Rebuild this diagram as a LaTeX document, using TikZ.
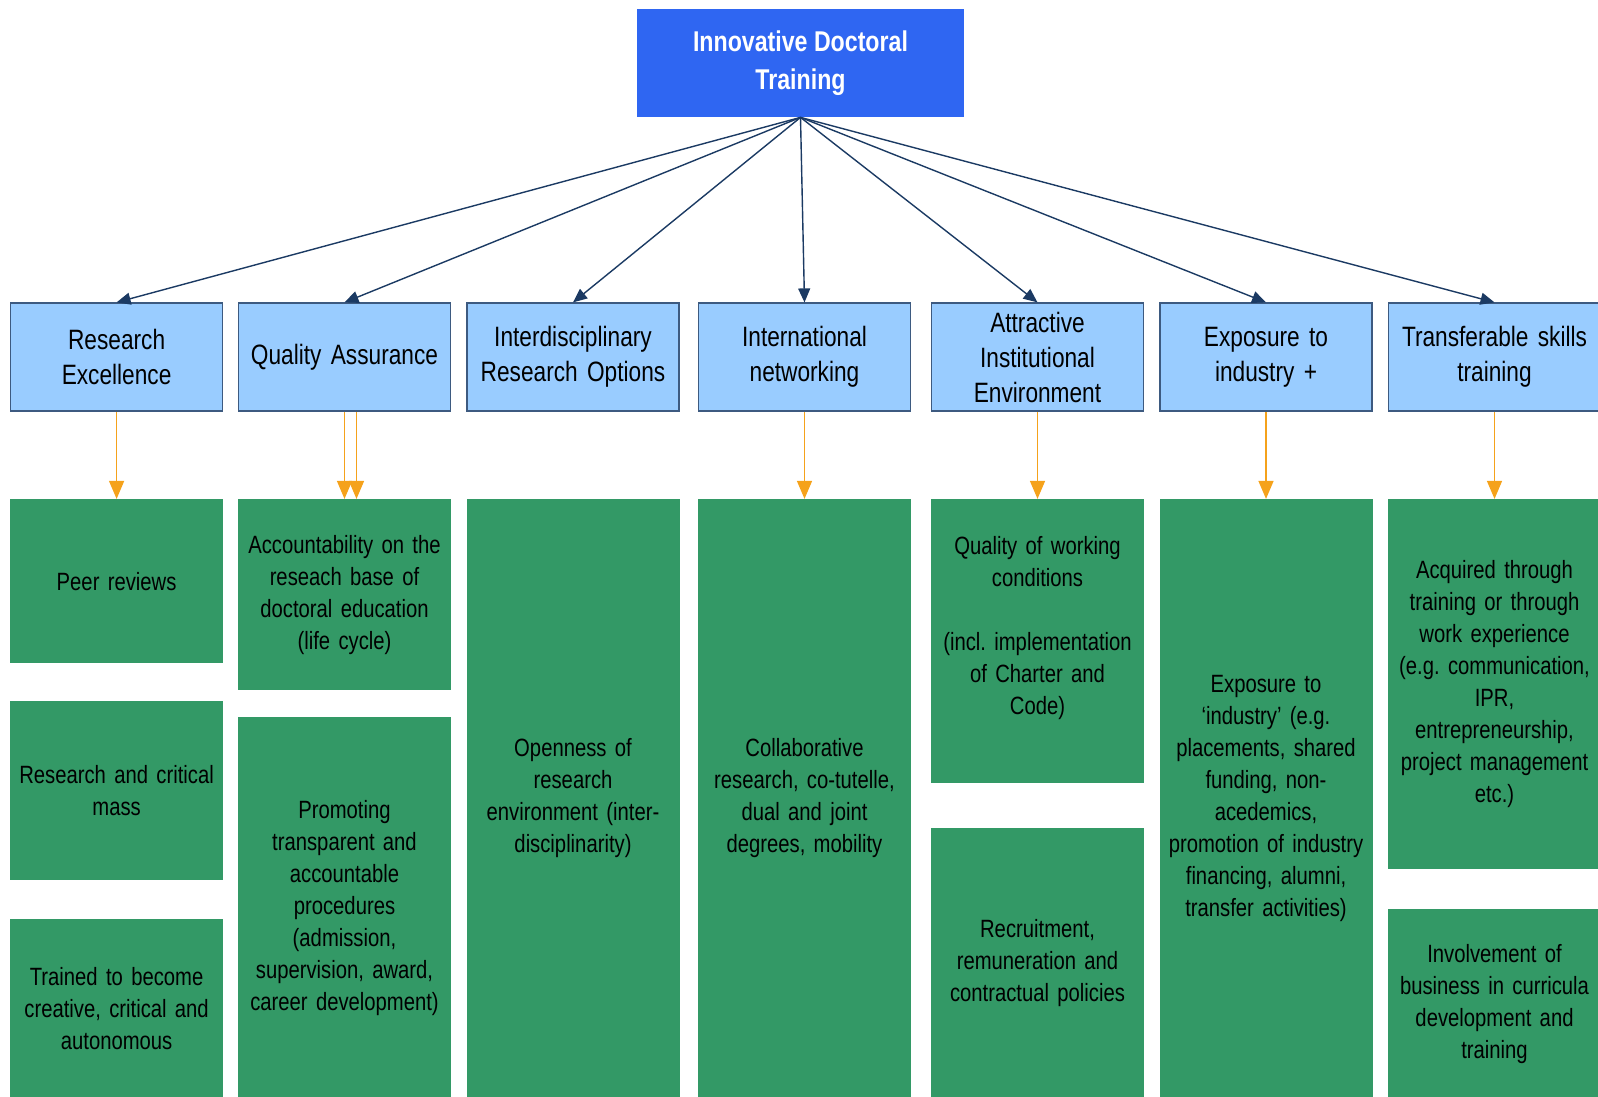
\documentclass[tikz,border=0pt]{standalone}
\usepackage{fontspec}
\setmainfont{Liberation Sans}[FakeStretch=0.81]
\frenchspacing
\usepackage{xcolor}
\usetikzlibrary{shapes,arrows.meta,positioning}

\definecolor{topblue}{HTML}{2F66F2}
\definecolor{pillarfill}{HTML}{99CCFF}
\definecolor{pillarline}{HTML}{3D5A80}
\definecolor{itemgreen}{HTML}{339966}
\definecolor{navy}{HTML}{1B3A63}
\definecolor{feedorange}{HTML}{F5A21B}

\begin{document}
\begin{tikzpicture}[x=0.5pt, y=-0.5pt, node distance=7.5pt,
    head/.style={rectangle, fill=topblue, text=white, font=\bfseries\fontsize{14.3}{19}\selectfont, align=center, minimum width=163.5pt, minimum height=54pt, inner sep=2pt},
    pillar/.style={rectangle, draw=pillarline, line width=0.75pt, fill=pillarfill, font=\fontsize{14}{17.5}\selectfont, align=center, text width=100pt, minimum width=106pt, minimum height=54pt, inner sep=2pt},
    item/.style={rectangle, fill=itemgreen, font=\fontsize{12.5}{16}\selectfont, align=center, text width=102pt, minimum width=106.5pt, inner sep=2pt},
    link/.style={-{Triangle[length=7pt,width=6pt]}, draw=navy, line width=0.7pt},
    feed/.style={-{Triangle[length=9pt,width=7.5pt]}, draw=feedorange, line width=0.7pt}]
    \useasboundingbox (0,0) rectangle (1598,1096);

    \node (idt) [head] at (800.5,63) {Innovative Doctoral\\Training};

    % pillars
    \node (intl) [pillar, below=92.5pt of idt, xshift=2pt] {International\\networking};
    \node (inter) [pillar, left=9pt of intl] {Interdisciplinary\\Research Options};
    \node (qual) [pillar, left=7.5pt of inter] {Quality Assurance};
    \node (res) [pillar, left=7.2pt of qual] {Research\\Excellence};
    \node (attr) [pillar, right=9.75pt of intl] {Attractive\\Institutional\\Environment};
    \node (expo) [pillar, right=7.5pt of attr] {Exposure to\\industry +};
    \node (trans) [pillar, right=7.5pt of expo] {Transferable skills\\training};

    % items
    \node (peer) [item, minimum height=82pt, below=43.5pt of res] {Peer reviews};
    \node (mass) [item, minimum height=89.5pt, below=18.5pt of peer] {Research and critical\\mass};
    \node (auton) [item, minimum height=90pt, below=19pt of mass] {Trained to become\\creative, critical and\\autonomous};

    \node (acct) [item, minimum height=95.5pt, below=43.5pt of qual] {Accountability on the\\reseach base of\\doctoral education\\(life cycle)};
    \node (proc) [item, minimum height=190.5pt, below=13pt of acct] {Promoting\\transparent and\\accountable\\procedures\\(admission,\\supervision, award,\\career development)};

    \node (open) [item, minimum height=299pt, below=43.5pt of inter] {Openness of\\research\\environment (inter-\\disciplinarity)};

    \node (collab) [item, minimum height=299pt, below=43.5pt of intl] {Collaborative\\research, co-tutelle,\\dual and joint\\degrees, mobility};

    \node (work) [item, minimum height=142pt, below=43.5pt of attr] {Quality of working\\conditions\\[16pt](incl. implementation\\of Charter and\\Code)\\\mbox{}};
    \node (recr) [item, minimum height=135pt, below=22pt of work] {Recruitment,\\remuneration and\\contractual policies};

    \node (indus) [item, minimum height=299pt, below=43.5pt of expo] {Exposure to\\‘industry’ (e.g.\\placements, shared\\funding, non-\\acedemics,\\promotion of industry\\financing, alumni,\\transfer activities)};

    \node (acq) [item, minimum height=185pt, below=43.5pt of trans] {Acquired through\\training or through\\work experience\\(e.g. communication,\\IPR,\\entrepreneurship,\\project management\\etc.)};
    \node (biz) [item, minimum height=94.5pt, below=19.5pt of acq] {Involvement of\\business in curricula\\development and\\training};

    % connectors
    \foreach \p in {res,qual,inter,intl,attr,expo,trans}
        \draw[link] (idt.south) -- (\p.north);

    \draw[feed] (res) -- (peer);
    \draw[feed] (qual) -- (acct);
    \draw[feed] ([xshift=6pt]qual.south) -- ([xshift=6pt]acct.north);
    \draw[feed] (intl) -- (collab);
    \draw[feed] (attr) -- (work);
    \draw[feed] (expo) -- (indus);
    \draw[feed] (trans) -- (acq);
\end{tikzpicture}
\end{document}
